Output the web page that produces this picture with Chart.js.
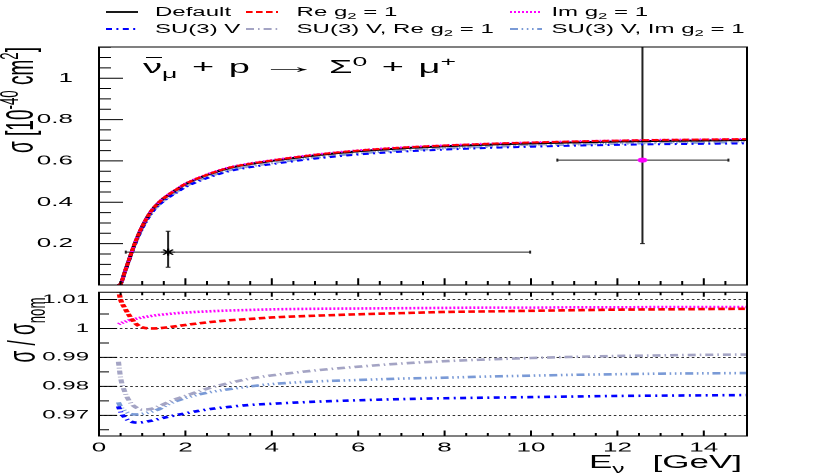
<!DOCTYPE html>
<html>
<head>
<meta charset="utf-8">
<script src="https://cdn.jsdelivr.net/npm/chart.js@4.4.1/dist/chart.umd.min.js"></script>
<style>
html, body { margin: 0; padding: 0; background: #fff; }
body { width: 830px; height: 474px; overflow: hidden; position: relative; font-family: "Liberation Sans", Arial, sans-serif; }
/* the original plot is a half-width ROOT canvas stretched 2x horizontally */
#stage { position: absolute; left: 0; top: 0; width: 415px; height: 474px; transform: scaleX(2); transform-origin: 0 0; }
#topChart { position: absolute; left: 0; top: 0; }
#botChart { position: absolute; left: 0; top: 280px; }
.txt { position: absolute; white-space: nowrap; color: #000; }
.txt sub, .txt sup { font-size: 70%; line-height: 0; }
.leg { font-size: 12px; line-height: 14px; }
.legline { position: absolute; }
</style>
</head>
<body>
<div id="stage">
  <canvas id="topChart" width="415" height="300"></canvas>
  <canvas id="botChart" width="415" height="194"></canvas>

  <div class="txt" style="left:71.5px; top:57.4px; font-size:19px; line-height:19px; word-spacing:2px;">
    <span style="position:relative; display:inline-block;">ν<span style="position:absolute; left:1px; right:0.5px; top:0px; border-top:1.6px solid #000;"></span></span><sub>μ</sub> + p <span style="display:inline-block; transform:scaleX(1.6); margin:0 3px; font-weight:bold;">→</span> Σ<sup>0</sup> + μ<sup>+</sup>
  </div>

  <div class="txt" style="left:10px; top:100px; font-size:19px; line-height:19px; transform:translate(-50%,-50%) rotate(-90deg);">σ [10<sup>-40</sup> cm<sup>2</sup>]</div>
  <div class="txt" style="left:11px; top:330px; font-size:19px; line-height:19px; transform:translate(-50%,-50%) rotate(-90deg);">σ / σ<sub>nom</sub></div>
  <div class="txt" style="right:44px; top:454px; font-size:17.5px; line-height:17.5px;">E<sub>ν</sub><span style="margin-left:14px;">[GeV]</span></div>
</div>

<script>
// energy grid [GeV]
const energy = [0.45, 0.5, 0.6, 0.7, 0.8, 0.9, 1.0, 1.2, 1.4, 1.6, 1.8, 2.0, 2.5, 3.0, 3.5, 4.0, 5.0, 6.0, 7.0, 8.0, 9.0, 10.0, 11.0, 12.0, 13.0, 14.0, 15.0];

// default cross section [1e-40 cm2]
const sigmaDefault = [0.0, 0.005, 0.065, 0.125, 0.185, 0.237, 0.283, 0.355, 0.402, 0.435, 0.462, 0.488, 0.532, 0.565, 0.585, 0.600, 0.627, 0.647, 0.661, 0.671, 0.679, 0.685, 0.690, 0.694, 0.697, 0.699, 0.701];

// ratios sigma / sigma_nom
const ratioRe = [1.0135, 1.0100, 1.0070, 1.0045, 1.0025, 1.0011, 1.0004, 1.0000, 1.0001, 1.0004, 1.0008, 1.0012, 1.0021, 1.0028, 1.0033, 1.0038, 1.0044, 1.0049, 1.0053, 1.0057, 1.0059, 1.0061, 1.0063, 1.0065, 1.0066, 1.0067, 1.0068];
const ratioIm = [1.0015, 1.0018, 1.0023, 1.0028, 1.0032, 1.0035, 1.0038, 1.0043, 1.0047, 1.0050, 1.0053, 1.0055, 1.0059, 1.0062, 1.0064, 1.0066, 1.0068, 1.0069, 1.0070, 1.0071, 1.0072, 1.0072, 1.0073, 1.0073, 1.0074, 1.0074, 1.0074];
const ratioSU3 = [0.9731, 0.9712, 0.9692, 0.9681, 0.9676, 0.9675, 0.9676, 0.9681, 0.9688, 0.9695, 0.9701, 0.9707, 0.9720, 0.9729, 0.9736, 0.9740, 0.9747, 0.9752, 0.9756, 0.9759, 0.9761, 0.9763, 0.9765, 0.9767, 0.9768, 0.9769, 0.9770];
const ratioSU3Re = [0.9885, 0.9830, 0.9780, 0.9750, 0.9733, 0.9724, 0.9720, 0.9722, 0.9732, 0.9745, 0.9757, 0.9767, 0.9792, 0.9811, 0.9827, 0.9838, 0.9855, 0.9868, 0.9879, 0.9887, 0.9893, 0.9898, 0.9902, 0.9905, 0.9907, 0.9909, 0.9910];
const ratioSU3Im = [0.9745, 0.9730, 0.9715, 0.9706, 0.9703, 0.9703, 0.9705, 0.9712, 0.9722, 0.9738, 0.9750, 0.9760, 0.9778, 0.9790, 0.9800, 0.9808, 0.9817, 0.9822, 0.9827, 0.9830, 0.9834, 0.9837, 0.9840, 0.9842, 0.9844, 0.9845, 0.9846];

// measurements
const measE = [1.6, 12.58];
const measSigma = [0.159, 0.604];
const measELo = [0.62, 10.61];
const measEHi = [9.98, 14.57];
const measSigmaLo = [0.086, 0.2];
const measSigmaHi = [0.26, 1.4];

// tick labels
const xTicks = [0, 2, 4, 6, 8, 10, 12, 14];
const sigmaTicks = [0.2, 0.4, 0.6, 0.8, 1];
const ratioTicks = [0.97, 0.98, 0.99, 1, 1.01];

const seriesNames = ['Default', 'Re g2 = 1', 'Im g2 = 1', 'SU(3) V', 'SU(3) V, Re g2 = 1', 'SU(3) V, Im g2 = 1'];
const ratios = [null, ratioRe, ratioIm, ratioSU3, ratioSU3Re, ratioSU3Im];

const styles = [
  { color: '#000000', dash: [], order: 2 },
  { color: '#ff0000', dash: [3.3, 1.7], order: 0 },
  { color: '#ff00ff', dash: [1, 1], order: 1 },
  { color: '#0000ff', dash: [3, 2.2, 1, 2.2], order: 3 },
  { color: '#a4a4c4', dash: [4, 2, 0.8, 2], order: 4 },
  { color: '#7a9ad6', dash: [4, 1.8, 0.8, 1.8, 0.8, 1.8, 0.8, 1.8], order: 5 }
];

const steps = (a, b, d) => {
  const out = [];
  for (let v = a; v <= b + 1e-9; v += d) out.push(+v.toFixed(4));
  return out;
};

function curve(i, values, width) {
  return {
    type: 'line',
    label: seriesNames[i],
    data: energy.map((e, k) => ({ x: e, y: values[k] })),
    borderColor: styles[i].color,
    borderDash: styles[i].dash,
    borderWidth: width,
    pointRadius: 0,
    cubicInterpolationMode: 'monotone',
    order: styles[i].order
  };
}

// ROOT style frame with inward ticks
function frameTicks(cfg) {
  return {
    id: 'frameTicks',
    afterDraw(chart) {
      const { ctx, chartArea: a, scales: { x, y } } = chart;
      ctx.save();
      ctx.strokeStyle = '#000';
      ctx.lineWidth = 1;
      ctx.beginPath();
      cfg.left.forEach(([vals, len]) => vals.forEach(v => {
        const p = y.getPixelForValue(v);
        if (p < a.top - 0.5 || p > a.bottom + 0.5) return;
        ctx.moveTo(a.left, p); ctx.lineTo(a.left + len, p);
      }));
      cfg.bottom.forEach(([vals, len]) => vals.forEach(v => {
        const p = x.getPixelForValue(v);
        ctx.moveTo(p, a.bottom); ctx.lineTo(p, a.bottom - len);
      }));
      cfg.top.forEach(([vals, len]) => vals.forEach(v => {
        const p = x.getPixelForValue(v);
        ctx.moveTo(p, a.top); ctx.lineTo(p, a.top + len);
      }));
      ctx.rect(a.left, a.top, a.right - a.left, a.bottom - a.top);
      ctx.stroke();
      ctx.restore();
    }
  };
}

const errorBars = {
  id: 'errorBars',
  beforeDatasetsDraw(chart) {
    const { ctx, chartArea: a, scales: { x, y } } = chart;
    ctx.save();
    ctx.beginPath();
    ctx.rect(a.left, a.top, a.right - a.left, a.bottom - a.top);
    ctx.clip();
    ctx.strokeStyle = '#222';
    ctx.lineWidth = 1;
    measE.forEach((e, i) => {
      const px = x.getPixelForValue(e), py = y.getPixelForValue(measSigma[i]);
      const x0 = x.getPixelForValue(measELo[i]), x1 = x.getPixelForValue(measEHi[i]);
      const y0 = y.getPixelForValue(measSigmaLo[i]), y1 = y.getPixelForValue(measSigmaHi[i]);
      ctx.beginPath();
      ctx.moveTo(x0, py); ctx.lineTo(x1, py);
      ctx.moveTo(px, y0); ctx.lineTo(px, y1);
      ctx.moveTo(x0, py - 1.5); ctx.lineTo(x0, py + 1.5);
      ctx.moveTo(x1, py - 1.5); ctx.lineTo(x1, py + 1.5);
      ctx.moveTo(px - 1.2, y0); ctx.lineTo(px + 1.2, y0);
      ctx.moveTo(px - 1.2, y1); ctx.lineTo(px + 1.2, y1);
      ctx.stroke();
    });
    ctx.restore();
  }
};

const tickFont = size => ({ family: 'Liberation Sans', size: size });
const common = {
  responsive: false,
  animation: false,
  events: [],
  devicePixelRatio: 2,
  plugins: { legend: { display: false }, tooltip: { enabled: false } }
};

// top panel: cross sections
const topSets = seriesNames.map((n, i) =>
  curve(i, ratios[i] ? sigmaDefault.map((s, k) => s * ratios[i][k]) : sigmaDefault, 2));
topSets.push({
  type: 'scatter',
  label: 'data',
  data: measE.map((e, i) => ({ x: e, y: measSigma[i] })),
  pointStyle: 'star',
  pointRadius: [3.5, 2.5],
  pointBorderWidth: [1.1, 1.6],
  pointBorderColor: ['#000000', '#ff00ff'],
  order: -1
});

new Chart(document.getElementById('topChart'), {
  type: 'line',
  data: { datasets: topSets },
  options: Object.assign({}, common, {
    layout: { padding: { left: 0, right: 41.5, top: 47, bottom: 15 } },
    scales: {
      x: { type: 'linear', display: false, min: 0, max: 15 },
      y: {
        type: 'linear', min: 0, max: 1.151,
        afterFit: s => { s.width = 49.5; },
        afterBuildTicks: s => { s.ticks = sigmaTicks.map(v => ({ value: v })); },
        grid: { display: false },
        border: { display: false },
        ticks: { padding: 5, color: '#000', font: tickFont(13), callback: v => String(v) }
      }
    }
  }),
  plugins: [errorBars, frameTicks({
    left: [[steps(0, 1.15, 0.2), 12], [steps(0, 1.15, 0.05), 6]],
    bottom: [[steps(0, 15, 2), 6.7], [steps(0, 15, 0.5), 4]],
    top: []
  })]
});

// bottom panel: ratios
const botSets = seriesNames.map((n, i) => ratios[i] ? curve(i, ratios[i], 2.6) : null).filter(d => d);

new Chart(document.getElementById('botChart'), {
  type: 'line',
  data: { datasets: botSets },
  options: Object.assign({}, common, {
    layout: { padding: { left: 0, right: 41.5, top: 5, bottom: 0 } },
    scales: {
      x: {
        type: 'linear', min: 0, max: 15,
        afterFit: s => { s.height = 38; },
        afterBuildTicks: s => { s.ticks = xTicks.map(v => ({ value: v })); },
        grid: { display: false },
        border: { display: false },
        ticks: { padding: -4, maxRotation: 0, autoSkip: false, color: '#000', font: tickFont(13), callback: v => String(v) }
      },
      y: {
        type: 'linear', min: 0.96286, max: 1.01253,
        afterFit: s => { s.width = 49.5; },
        afterBuildTicks: s => { s.ticks = ratioTicks.map(v => ({ value: v })); },
        grid: { display: true, drawTicks: false, color: '#333', lineWidth: 1 },
        border: { display: false, dash: [1.3, 1.3] },
        ticks: { padding: 5, color: '#000', font: tickFont(12), callback: v => String(v) }
      }
    }
  }),
  plugins: [frameTicks({
    left: [[steps(0.97, 1.01, 0.01), 9], [steps(0.965, 1.01, 0.005), 5]],
    bottom: [[steps(0, 15, 2), 5.5], [steps(0, 15, 0.5), 3]],
    top: [[steps(0, 15, 2), 4.5], [steps(0, 15, 0.5), 3]]
  })]
});

// legend, 3 columns x 2 rows
const stage = document.getElementById('stage');
const lineCols = [53.3, 123.3, 254.5];
const textCols = [77.5, 148.3, 275.7];
const rowMid = [11.6, 29.2];
seriesNames.forEach((name, i) => {
  const c = i % 3, r = Math.floor(i / 3);
  const svg = document.createElementNS('http://www.w3.org/2000/svg', 'svg');
  svg.setAttribute('width', '16');
  svg.setAttribute('height', '6');
  svg.setAttribute('class', 'legline');
  svg.style.left = lineCols[c] + 'px';
  svg.style.top = (rowMid[r] - 3) + 'px';
  const ln = document.createElementNS('http://www.w3.org/2000/svg', 'line');
  ln.setAttribute('x1', '0'); ln.setAttribute('y1', '3');
  ln.setAttribute('x2', '16'); ln.setAttribute('y2', '3');
  ln.setAttribute('stroke', styles[i].color);
  ln.setAttribute('stroke-width', '1.8');
  if (styles[i].dash.length) ln.setAttribute('stroke-dasharray', styles[i].dash.join(' '));
  svg.appendChild(ln);
  stage.appendChild(svg);
  const t = document.createElement('div');
  t.className = 'txt leg';
  t.style.left = textCols[c] + 'px';
  t.style.top = (rowMid[r] - 7.1) + 'px';
  t.innerHTML = name.replace('g2', 'g<sub>2</sub>');
  stage.appendChild(t);
});
</script>
</body>
</html>
